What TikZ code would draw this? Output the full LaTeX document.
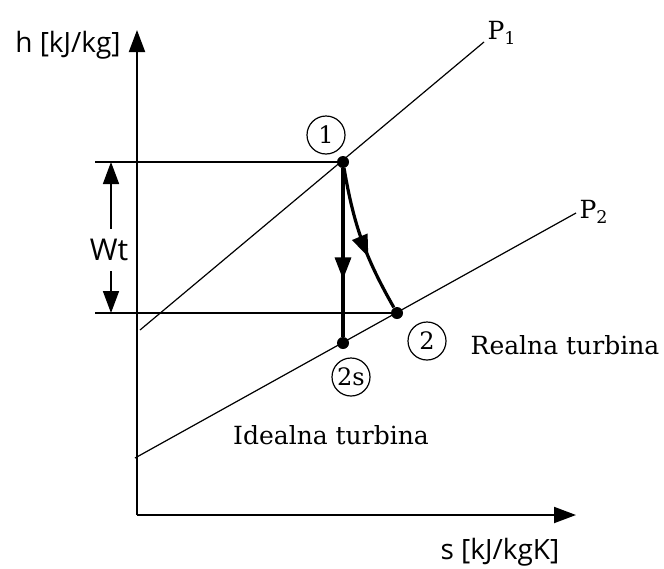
\documentclass[tikz,border=0pt]{standalone}
\usepackage{fontspec}
\setmainfont{DejaVu Serif}
\newfontfamily\axisfont{Open Sans}
\usetikzlibrary{arrows.meta,decorations.markings}

\begin{document}
\begin{tikzpicture}[
x=0.5pt, y=-0.5pt,
axis/.style={line width=1pt,-{Triangle[length=11pt,width=8pt]}},
isobar/.style={line width=0.6pt},
guide/.style={line width=0.8pt},
process/.style={line width=1.6pt,postaction={decorate},
  decoration={markings,mark=at position #1 with {\arrow{Triangle[length=11pt,width=8pt]}}}},
arrow/.style={line width=0.8pt,-{Triangle[length=11pt,width=8pt]}},
ptdot/.style={circle,fill,inner sep=0pt,minimum size=6pt},
statelbl/.style={circle,draw,line width=0.6pt,inner sep=0.5pt,minimum size=19pt,font=\fontsize{12}{14}\selectfont},
lbl/.style={font=\fontsize{12.5}{15}\selectfont},
axlabel/.style={font=\axisfont\fontsize{14}{16}\selectfont}
]
\useasboundingbox (0,0) rectangle (664,568);

\coordinate (O) at (137,515);
\coordinate (hend) at (137,30);
\coordinate (send) at (576,515);

\draw[axis] (O) -- (hend);
\draw[axis] (O) -- (send);

\node[axlabel] (hlbl) at (68,45) {h [kJ/kg]};
\node[axlabel] (slbl) at (500,552) {s [kJ/kgK]};

\coordinate (p1a) at (140,330);
\coordinate (p1b) at (484,42);
\coordinate (p2a) at (135,458);
\coordinate (p2b) at (576,213);

\draw[isobar] (p1a) -- (p1b);
\draw[isobar] (p2a) -- (p2b);

\node[lbl] (p1lbl) at (502,33) {P\textsubscript{1}};
\node[lbl] (p2lbl) at (594,212) {P\textsubscript{2}};

\node[ptdot] (s1) at (343,162) {};
\node[ptdot] (s2) at (397,313) {};
\node[ptdot] (s2s) at (343,343) {};

\coordinate (g1) at (95,162);
\coordinate (g2) at (95,313);

\draw[guide] (g1) -- (s1.center);
\draw[guide] (g2) -- (s2.center);

\node[axlabel,font=\axisfont\fontsize{15}{17}\selectfont,inner ysep=5pt] (wt) at (109,250) {Wt};
\coordinate (wt1) at (111,162);
\coordinate (wt2) at (111,313);

\draw[arrow] (wt.north -| wt1) -- (wt1);
\draw[arrow] (wt.south -| wt2) -- (wt2);

\draw[process=0.66] (s1) -- (s2s);
\draw[process=0.62] (s1) to[bend right=10] (s2);

\node[statelbl] (c1) at (326,135) {1};
\node[statelbl] (c2) at (427,341) {2};
\node[statelbl] (c2s) at (351,377) {2s};

\node[lbl] (real) at (565,345) {Realna turbina};
\node[lbl] (ideal) at (331,435) {Idealna turbina};

\end{tikzpicture}
\end{document}
